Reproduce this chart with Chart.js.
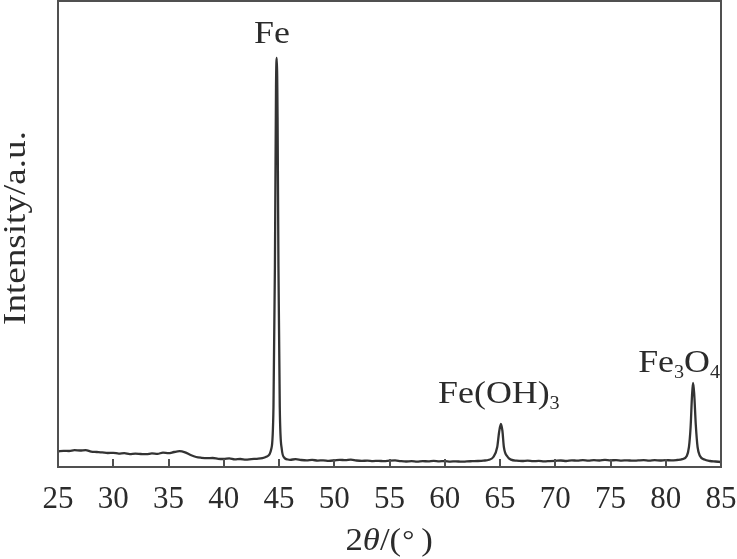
<!DOCTYPE html>
<html>
<head>
<meta charset="utf-8">
<script src="https://cdn.jsdelivr.net/npm/chart.js@4/dist/chart.umd.min.js"></script>
<style>
  html, body { margin: 0; padding: 0; background: #fff; }
  #wrap { width: 737px; height: 559px; }
</style>
</head>
<body>
<div id="wrap"><canvas id="xrd"></canvas></div>
<script>
// XRD pattern (intensity in arbitrary units)
const twoTheta = [
  25.0, 25.5, 26.0, 26.5, 27.0, 27.5, 28.0, 28.5, 29.0, 29.5,
  30.0, 30.5, 31.0, 31.5, 32.0, 32.5, 33.0, 33.5, 34.0, 34.5,
  35.0, 35.5, 36.0, 36.5, 37.0, 37.5, 38.0, 38.5, 39.0, 39.5,
  40.0, 40.5, 41.0, 41.5, 42.0, 42.5, 43.0, 43.5, 43.9, 44.3,
  44.5, 44.63, 44.73, 44.8, 44.87, 44.95, 45.07, 45.25, 45.5, 45.8,
  46.0, 46.5, 47.0, 47.5, 48.0, 48.5, 49.0, 49.5, 50.0, 50.5,
  51.0, 51.5, 52.0, 52.5, 53.0, 53.5, 54.0, 54.5, 55.0, 55.5,
  56.0, 56.5, 57.0, 57.5, 58.0, 58.5, 59.0, 59.5, 60.0, 60.5,
  61.0, 61.5, 62.0, 62.5, 63.0, 63.5, 64.0, 64.4, 64.75, 64.92,
  65.08, 65.22, 65.35, 65.7, 66.0, 66.5, 67.0, 67.5, 68.0, 68.5,
  69.0, 69.5, 70.0, 70.5, 71.0, 71.5, 72.0, 72.5, 73.0, 73.5,
  74.0, 74.5, 75.0, 75.5, 76.0, 76.5, 77.0, 77.5, 78.0, 78.5,
  79.0, 79.5, 80.0, 80.5, 81.0, 81.5, 81.9, 82.1, 82.25, 82.38,
  82.47, 82.57, 82.72, 82.88, 83.1, 83.5, 84.0, 84.5, 85.0
];
const intensity = [
  15.5, 16.2, 16.0, 16.8, 16.5, 16.9, 15.4, 15.0, 14.6, 14.0,
  14.2, 13.4, 13.8, 12.9, 13.3, 13.0, 12.8, 13.6, 13.2, 14.3,
  13.8, 15.0, 15.8, 14.6, 12.0, 10.0, 9.2, 8.8, 9.0, 8.2,
  8.0, 8.6, 7.6, 8.0, 7.4, 7.9, 8.2, 8.8, 10.5, 18,
  60, 200, 380, 409, 350, 200, 60, 18, 9, 7.5,
  7.2, 7.8, 7.0, 6.6, 7.1, 6.4, 6.7, 6.2, 6.6, 7.2,
  6.8, 7.3, 6.5, 6.1, 6.4, 5.9, 6.2, 5.8, 6.3, 6.6,
  5.9, 5.5, 5.8, 5.4, 5.9, 5.6, 6.1, 5.7, 5.9, 5.4,
  5.7, 5.3, 5.6, 5.8, 6.0, 6.4, 7.2, 10, 20, 35,
  43, 36, 20, 10, 7.4, 6.3, 6.0, 6.4, 5.8, 6.1,
  5.6, 5.9, 6.2, 6.5, 6.0, 6.7, 6.3, 6.9, 6.4, 6.8,
  6.5, 7.1, 6.6, 6.9, 6.4, 6.7, 6.3, 6.6, 6.9, 6.4,
  6.8, 6.5, 6.9, 6.6, 7.0, 7.8, 11, 20, 40, 72,
  84, 74, 42, 20, 11, 7.5, 6.0, 5.5, 5.0
];
const tickValues = [25, 30, 35, 40, 45, 50, 55, 60, 65, 70, 75, 80, 85];
const tickLabels = ['25', '30', '35', '40', '45', '50', '55', '60', '65', '70', '75', '80', '85'];

// phase labels: text pieces [text, isSubscript], anchored at (2θ, intensity)
const phaseNames = [
  [['Fe', false]],
  [['Fe(OH)', false], ['3', true]],
  [['Fe', false], ['3', true], ['O', false], ['4', true]]
];
const phaseAt = [[44.37, 424], [59.4, 64], [77.5, 95]];
const phaseAlign = ['center', 'left', 'left'];

const SERIF = '"Liberation Serif", "Times New Roman", serif';
const INK = '#2b2b2b';
const STRETCH = 1.12;

function pieceWidth(ctx, pieces, big, small) {
  let w = 0;
  for (const [t, sub] of pieces) {
    ctx.font = (sub ? small : big) + 'px ' + SERIF;
    w += ctx.measureText(t).width;
  }
  return w;
}

const decorations = {
  id: 'decorations',
  afterDatasetsDraw(chart) {
    const { ctx, chartArea: a, scales: { x, y } } = chart;
    ctx.save();
    // frame
    ctx.strokeStyle = '#505050';
    ctx.lineWidth = 2;
    ctx.strokeRect(a.left, a.top, a.right - a.left, a.bottom - a.top);
    // inward ticks on the bottom axis
    ctx.lineWidth = 2;
    ctx.beginPath();
    tickValues.forEach(v => {
      const px = Math.round(x.getPixelForValue(v));
      ctx.moveTo(px, a.bottom);
      ctx.lineTo(px, a.bottom - 8);
    });
    ctx.stroke();

    ctx.fillStyle = INK;
    ctx.textBaseline = 'alphabetic';
    ctx.textAlign = 'left';

    // phase labels
    phaseNames.forEach((pieces, i) => {
      const big = 32, small = 18;
      const w = pieceWidth(ctx, pieces, big, small) * STRETCH;
      let px = x.getPixelForValue(phaseAt[i][0]);
      const py = y.getPixelForValue(phaseAt[i][1]);
      if (phaseAlign[i] === 'center') px -= w / 2;
      ctx.save();
      ctx.translate(px, py);
      ctx.scale(STRETCH, 1);
      let cx = 0;
      for (const [t, sub] of pieces) {
        ctx.font = (sub ? small : big) + 'px ' + SERIF;
        ctx.fillText(t, cx, sub ? 6 : 0);
        cx += ctx.measureText(t).width;
      }
      ctx.restore();
    });

    // x title: 2θ/(°)
    const xt = [['2', ''], ['\u03b8', 'italic '], ['/(', ''], ['\u00b0', ''], ['\u2009)', '']];
    let tw = 0;
    xt.forEach(([t, st]) => { ctx.font = st + '31px ' + SERIF; tw += ctx.measureText(t).width; });
    ctx.save();
    ctx.translate((a.left + a.right) / 2 - tw * STRETCH / 2, 550);
    ctx.scale(STRETCH, 1);
    let cx = 0;
    xt.forEach(([t, st]) => {
      if (t === '\u00b0') {
        ctx.font = '27px ' + SERIF;
        ctx.fillText(t, cx + 1, -1);
        cx += ctx.measureText(t).width + 1;
      } else {
        ctx.font = st + '31px ' + SERIF;
        ctx.fillText(t, cx, 0);
        cx += ctx.measureText(t).width;
      }
    });
    ctx.restore();

    // y title
    ctx.save();
    ctx.translate(25, (a.top + a.bottom) / 2 - 6);
    ctx.rotate(-Math.PI / 2);
    ctx.font = '32px ' + SERIF;
    ctx.textAlign = 'center';
    ctx.scale(1.16, 1);
    ctx.fillText('Intensity/a.u.', 0, 0);
    ctx.restore();

    ctx.restore();
  }
};

new Chart(document.getElementById('xrd'), {
  type: 'line',
  data: {
    datasets: [{
      data: twoTheta.map((t, i) => ({ x: t, y: intensity[i] })),
      borderColor: '#333333',
      borderWidth: 2.3,
      pointRadius: 0,
      cubicInterpolationMode: 'monotone',
      fill: false
    }]
  },
  options: {
    responsive: true,
    maintainAspectRatio: false,
    animation: false,
    layout: { padding: { left: 58, right: 16, top: 1, bottom: 0 } },
    plugins: {
      legend: { display: false },
      tooltip: { enabled: false }
    },
    scales: {
      x: {
        type: 'linear',
        min: 25,
        max: 85,
        afterBuildTicks: scale => { scale.ticks = tickValues.map(v => ({ value: v })); },
        afterFit: scale => {
          scale.height = 92;
          scale.paddingLeft = 0;
          scale.paddingRight = 0;
        },
        grid: { display: false, drawTicks: false },
        border: { display: false },
        ticks: {
          padding: 14,
          maxRotation: 0,
          autoSkip: false,
          color: INK,
          font: { family: SERIF, size: 31 },
          callback: v => tickLabels[tickValues.indexOf(v)]
        }
      },
      y: {
        display: false,
        min: 0,
        max: 466
      }
    }
  },
  plugins: [decorations]
});
</script>
</body>
</html>
